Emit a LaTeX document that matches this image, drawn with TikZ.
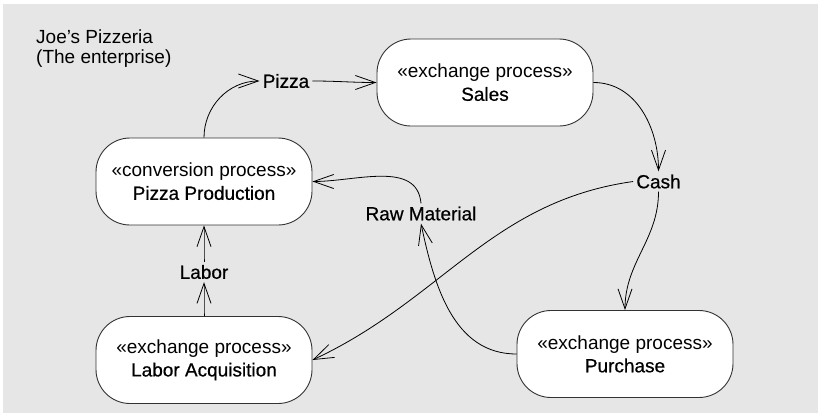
\documentclass[tikz,border=0pt]{standalone}
\usepackage{fontspec}
\setmainfont{Liberation Sans}
\newfontfamily\namefont[FakeBold=0.6]{Liberation Sans}
\usetikzlibrary{arrows.meta}

\def\boxradius{34pt}
\def\tiplength{20pt}
\definecolor{edgecolor}{RGB}{0, 0, 0}
\definecolor{boxcolor}{RGB}{51, 51, 51}
\definecolor{bgcolor}{RGB}{230, 230, 230}

\begin{document}
\begin{tikzpicture}[x=1pt, y=-1pt,
    process/.style={draw=boxcolor, fill=white, line width=0.9pt, rounded corners=\boxradius, minimum width=216pt, minimum height=87pt, align=center, font=\fontsize{19}{23}\selectfont},
    flow/.style={inner sep=3pt, font=\namefont\fontsize{19}{23}\selectfont},
    arc/.style={draw, line width=0.8pt, edgecolor, -{Straight Barb[length=\tiplength, width=14pt, line width=0.8pt]}}
    ]
    \useasboundingbox (0,0) rectangle (818,413);
    \fill[bgcolor] (3,4) rectangle (818,413);

    \node[anchor=north west, align=left, inner sep=0pt, font=\fontsize{19}{20}\selectfont, name=enterprise, at={(36,30)}] {Joe’s Pizzeria\\(The enterprise)};

    % Define processes
    \foreach \id/\pos/\kind/\procname in {
        sales/{(485,82.5)}/exchange/Sales,
        pp/{(204,181.5)}/conversion/Pizza Production,
        la/{(204,360)}/exchange/Labor Acquisition,
        purchase/{(625,354)}/exchange/Purchase
    }{
        \node[process, at=\pos, name=\id] {«\kind\ process»\\{\namefont \procname}};
    }

    % Define flows
    \foreach \id/\pos/\flowname in {
        pizza/{(286,81)}/Pizza,
        cash/{(658.5,181.5)}/Cash,
        raw/{(421,213.5)}/Raw Material,
        labor/{(204,272)}/Labor
    }{
        \node[flow, at=\pos, name=\id] {\flowname};
    }

    % Define edges
    \foreach \src/\dst/\outangle/\inangle in {
        pp.north/pizza.west/90/180,
        pizza.east/sales.west/0/180,
        sales.east/cash.north/0/90,
        cash.west/la.east/188/25,
        cash.south/purchase.north/-90/90,
        purchase.west/raw.south/180/-78,
        raw.north/pp.east/95/0,
        la.north/labor.south/90/-90,
        labor.north/pp.south/90/-90
    }{
        \draw[arc] (\src) to[out=\outangle, in=\inangle] (\dst);
    }
\end{tikzpicture}
\end{document}
